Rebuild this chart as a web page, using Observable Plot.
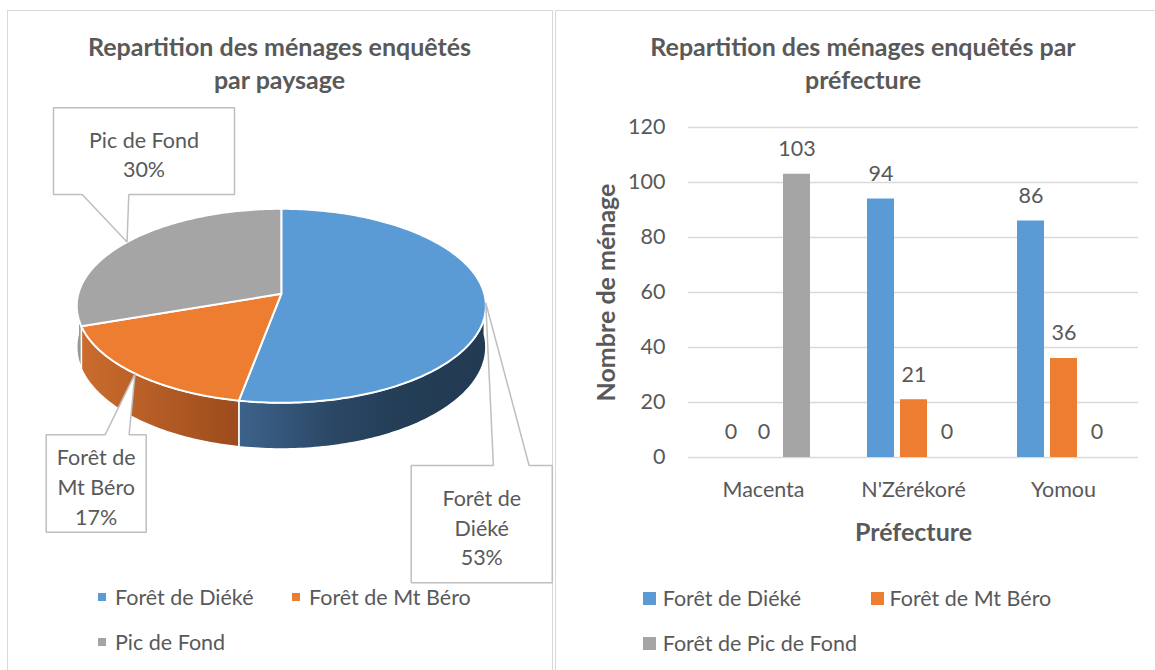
<!DOCTYPE html>
<html><head><meta charset="utf-8">
<script src="https://cdn.jsdelivr.net/npm/d3@7"></script>
<script src="https://cdn.jsdelivr.net/npm/@observablehq/plot@0.6"></script>
<style>
body{margin:0;background:#fff;}
#root{position:relative;width:1155px;height:670px;overflow:hidden;background:#fff;font-family:Lato,"Open Sans",sans-serif;color:#595959;}
.panel{position:absolute;border:1.5px solid #d9d9d9;box-sizing:border-box;}
.title{position:absolute;text-align:center;font-weight:bold;font-size:25px;line-height:33.3px;white-space:nowrap;}
.leg{position:absolute;font-size:21.5px;line-height:26px;height:26px;white-space:nowrap;}
.sw{position:absolute;}
#root svg.plot{position:absolute;overflow:visible;}
svg [aria-label="y-axis label"], svg [aria-label="fx-axis label"]{font-weight:bold;font-size:25px;}
</style></head>
<body><div id="root"></div>
<script>
// ---------- data ----------
const prefectures = ["Macenta", "N'Zérékoré", "Yomou"];
const barSeries = ["Forêt de Diéké", "Forêt de Mt Béro", "Forêt de Pic de Fond"];
const dieke = [0, 94, 86];
const mtBero = [0, 21, 36];
const picDeFond = [103, 0, 0];
const yTicks = [0, 20, 40, 60, 80, 100, 120];
const pieLabels = ["Forêt de Diéké", "Forêt de Mt Béro", "Pic de Fond"];
const pieLabelLines = [["Forêt de", "Diéké"], ["Forêt de", "Mt Béro"], ["Pic de Fond"]];
const pieValues = [d3.sum(dieke), d3.sum(mtBero), d3.sum(picDeFond)];
const colors = ["#5b9bd5", "#ed7d31", "#a5a5a5"];
const sideFills = ["url(#gSide0)", "url(#gSide1)", "url(#gSide2)"];

// ---------- page frame ----------
const root = document.getElementById("root");
root.innerHTML = `
<svg width="0" height="0" style="position:absolute"><defs>
<linearGradient id="gSide0" x1="0" y1="0" x2="1" y2="0"><stop offset="0" stop-color="#3d628b"/><stop offset="0.4" stop-color="#2a4663"/><stop offset="0.65" stop-color="#243e57"/><stop offset="1" stop-color="#223a52"/></linearGradient>
<linearGradient id="gSide1" x1="0" y1="0" x2="1" y2="0"><stop offset="0" stop-color="#cb6c2d"/><stop offset="1" stop-color="#9c4b1d"/></linearGradient>
<linearGradient id="gSide2" x1="0" y1="0" x2="1" y2="0"><stop offset="0" stop-color="#a3a3a3"/><stop offset="1" stop-color="#8e8e8e"/></linearGradient>
</defs></svg>
<div class="panel" style="left:7px;top:9.5px;width:546px;height:700px"></div>
<div class="panel" style="left:555px;top:9.5px;width:700px;height:700px"></div>
<div class="title" style="left:7.5px;width:544px;top:30px">Repartition des ménages enquêtés<br>par paysage</div>
<div class="title" style="left:556px;width:614px;top:30px">Repartition des ménages enquêtés par<br>préfecture</div>
`;

// ---------- pie (3D, perspective) ----------
const CX = 280.8, CY = 293.3, SX = 203, SY = 95.5, K = 0.1236, HN = 0.424;
const arcs = d3.pie().sort(null).startAngle(0).endAngle(2 * Math.PI)(pieValues);
const total = d3.sum(pieValues);
function rim(t, depth = 0) {
  const X = Math.sin(t), Z = -Math.cos(t), w = 1 - K * Z;
  return [X / w, (Z + depth) / w];
}
function arcPts(a, b, depth) {
  const n = Math.max(2, Math.ceil((b - a) / (Math.PI / 180)));
  return d3.range(n + 1).map(i => rim(a + (b - a) * i / n, depth));
}
const tops = arcs.map((d, i) => ({i, pts: [[0, 0], ...arcPts(d.startAngle, d.endAngle, 0), [0, 0]]}));
const sides = arcs.map((d, i) => {
  const a = Math.max(d.startAngle, Math.PI / 2), b = Math.min(d.endAngle, 3 * Math.PI / 2);
  if (b <= a) return null;
  const top = arcPts(a, b, 0), bot = arcPts(a, b, HN).reverse();
  return {i, pts: [...top, ...bot, top[0]]};
}).filter(Boolean);

// callout layout (pixels)
const calloutLayout = [
  {box: [410.7, 465, 551.8, 582.3], edge: "top", base: [492.9, 528.6]},
  {box: [45.7, 434.3, 145.7, 531.7], edge: "top", base: [104.6, 128.6]},
  {box: [53, 107.3, 234, 194], edge: "bottom", base: [81.7, 128.3]}
];
const pu = x => (x - CX) / SX, pv = y => (y - CY) / SY;
const callouts = arcs.map((d, i) => {
  const L = calloutLayout[i];
  const tip = rim((d.startAngle + d.endAngle) / 2, 0);
  const [x0, y0, x1, y1] = L.box;
  const [b0, b1] = L.base;
  let pts;
  if (L.edge === "top") {
    pts = [[pu(x0), pv(y0)], [pu(b0), pv(y0)], tip, [pu(b1), pv(y0)], [pu(x1), pv(y0)], [pu(x1), pv(y1)], [pu(x0), pv(y1)], [pu(x0), pv(y0)]];
  } else {
    pts = [[pu(x0), pv(y0)], [pu(x1), pv(y0)], [pu(x1), pv(y1)], [pu(b1), pv(y1)], tip, [pu(b0), pv(y1)], [pu(x0), pv(y1)], [pu(x0), pv(y0)]];
  }
  const pct = Math.round(100 * pieValues[i] / total) + "%";
  return {i, pts, tx: pu((x0 + x1) / 2), ty: pv((y0 + y1) / 2 + 2), label: [...pieLabelLines[i], pct].join("\n")};
});

const pieMarks = [];
for (const s of sides) pieMarks.push(Plot.line(s.pts, {x: d => d[0], y: d => d[1], fill: sideFills[s.i], stroke: "white", strokeWidth: 1.5, curve: "linear"}));
for (const t of tops) pieMarks.push(Plot.line(t.pts, {x: d => d[0], y: d => d[1], fill: colors[t.i], stroke: "white", strokeWidth: 2, curve: "linear"}));
for (const c of callouts) pieMarks.push(Plot.line(c.pts, {x: d => d[0], y: d => d[1], fill: "white", stroke: "#bfbfbf", strokeWidth: 1.5, strokeLinejoin: "miter", curve: "linear"}));
pieMarks.push(Plot.text(callouts, {x: "tx", y: "ty", text: "label", lineHeight: 1.38, fontSize: 21.5, fill: "#595959", lineAnchor: "middle"}));

const pie = Plot.plot({
  width: 554, height: 670, margin: 0,
  style: {background: "transparent", fontFamily: "Lato, 'Open Sans', sans-serif"},
  x: {domain: [-1, 1], range: [CX - SX, CX + SX], axis: null},
  y: {domain: [-1, 1], range: [CY - SY, CY + SY], axis: null},
  marks: pieMarks
});
pie.classList.add("plot");
pie.style.left = "0px"; pie.style.top = "0px";
root.appendChild(pie);

// ---------- grouped bars ----------
const seriesValues = [dieke, mtBero, picDeFond];
const rows = prefectures.flatMap((p, i) => barSeries.map((s, j) => ({prefecture: p, series: s, value: seriesValues[j][i]})));
const bars = Plot.plot({
  width: 600, height: 447, marginLeft: 133, marginRight: 17, marginTop: 27, marginBottom: 90,
  style: {background: "transparent", fontFamily: "Lato, 'Open Sans', sans-serif", fontSize: "21.5px", color: "#595959"},
  fx: {domain: prefectures, padding: 0},
  x: {domain: barSeries, paddingInner: 0.19, paddingOuter: 0.845, axis: null},
  y: {domain: [0, 120]},
  color: {domain: barSeries, range: colors},
  marks: [
    Plot.gridY(yTicks, {stroke: "#d9d9d9", strokeOpacity: 1, strokeWidth: 1.5}),
    Plot.axisY(yTicks, {tickSize: 0, tickPadding: 23, label: "Nombre de ménage", labelArrow: "none", labelAnchor: "center", labelOffset: 91, fill: "#595959"}),
    Plot.axisFx({anchor: "bottom", tickSize: 0, tickPadding: 24.7, label: "Préfecture", labelArrow: "none", labelAnchor: "center", labelOffset: 83, fill: "#595959"}),
    Plot.barY(rows, {fx: "prefecture", x: "series", y: "value", fill: "series"}),
    Plot.text(rows, {fx: "prefecture", x: "series", y: "value", text: d => String(d.value), dy: -25, lineAnchor: "middle", fill: "#595959"})
  ]
});
bars.classList.add("plot");
bars.style.left = "555px"; bars.style.top = "100px";
root.appendChild(bars);

// ---------- legends (HTML) ----------
const legendLayout = [
  {sq: 7.4, items: [
    {k: 0, sx: 98.3, sy: 597, tx: 115},
    {k: 1, sx: 292.3, sy: 597, tx: 309},
    {k: 2, sx: 98.3, sy: 642, tx: 115}
  ], labels: pieLabels},
  {sq: 13, items: [
    {k: 0, sx: 643.3, sy: 598.3, tx: 662.7},
    {k: 1, sx: 871, sy: 598.3, tx: 889.5},
    {k: 2, sx: 643.3, sy: 643.3, tx: 662.7}
  ], labels: barSeries}
];
for (const L of legendLayout) {
  for (const it of L.items) {
    const sw = document.createElement("div");
    sw.className = "sw";
    Object.assign(sw.style, {left: it.sx + "px", top: (it.sy - L.sq / 2) + "px", width: L.sq + "px", height: L.sq + "px", background: colors[it.k]});
    root.appendChild(sw);
    const tx = document.createElement("div");
    tx.className = "leg";
    tx.textContent = L.labels[it.k];
    Object.assign(tx.style, {left: it.tx + "px", top: (it.sy - 13) + "px"});
    root.appendChild(tx);
  }
}
</script>
</body></html>
